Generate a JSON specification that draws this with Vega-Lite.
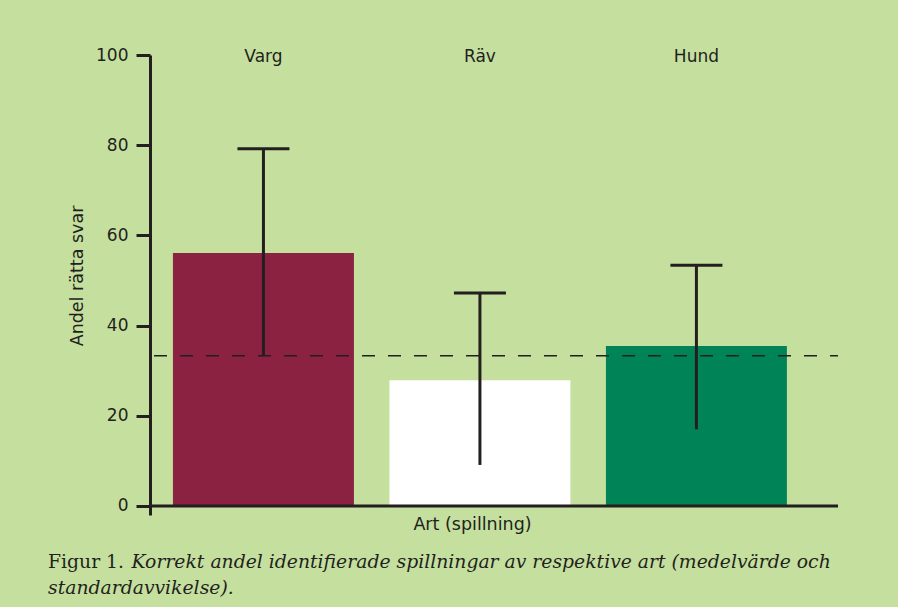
{
  "$schema": "https://vega.github.io/schema/vega-lite/v6.json",
  "width": 688,
  "height": 460,
  "autosize": {"type": "none"},
  "padding": {"left": 150, "top": 55, "right": 60, "bottom": 92},
  "background": "#C5DF9E",
  "config": {"view": {"stroke": null}, "font": "DejaVu Sans"},
  "data": {"values": [
    {"art": "Varg", "andel": 56.1, "lo": 33.3, "hi": 79.2},
    {"art": "Räv", "andel": 27.9, "lo": 9.1, "hi": 47.2},
    {"art": "Hund", "andel": 35.5, "lo": 17.0, "hi": 53.4}
  ]},
  "title": {
    "text": "Figur 1.",
    "subtitle": ["\u200b\u00a0\u00a0\u00a0\u00a0\u00a0\u00a0\u00a0\u00a0\u00a0\u00a0\u00a0\u00a0\u00a0\u00a0Korrekt andel identifierade spillningar av respektive art (medelvärde och", "standardavvikelse)."],
    "orient": "bottom",
    "anchor": "start",
    "frame": "group",
    "font": "DejaVu Serif",
    "fontSize": 18.8,
    "fontWeight": "normal",
    "color": "#231F20",
    "subtitleFont": "DejaVu Serif",
    "subtitleFontSize": 18.8,
    "subtitleFontStyle": "italic",
    "subtitleColor": "#231F20",
    "subtitleLineHeight": 26,
    "subtitlePadding": -18.8,
    "dx": -102,
    "dy": 16
  },
  "encoding": {
    "x": {
      "field": "art",
      "type": "nominal",
      "sort": null,
      "scale": {"paddingInner": 0.164, "paddingOuter": 0.171, "align": 0.31},
      "axis": {
        "domain": false,
        "ticks": false,
        "labels": false,
        "title": "Art (spillning)",
        "titleFont": "DejaVu Sans",
        "titleFontSize": 17.5,
        "titleFontWeight": "normal",
        "titleColor": "#231F20",
        "titleX": 322,
        "titleY": 14.5,
        "titleAlign": "center",
        "titleBaseline": "alphabetic"
      }
    }
  },
  "layer": [
    {
      "mark": {"type": "bar"},
      "encoding": {
        "y": {
          "field": "andel",
          "type": "quantitative",
          "scale": {"domain": [-2, 100], "nice": false, "zero": false},
          "axis": {
            "values": [0, 20, 40, 60, 80, 100],
            "grid": false,
            "tickSize": 14,
            "tickWidth": 3,
            "tickColor": "#231F20",
            "domainWidth": 3,
            "domainColor": "#231F20",
            "labelFont": "DejaVu Sans",
            "labelFontSize": 17,
            "labelColor": "#231F20",
            "labelPadding": 8,
            "title": "Andel rätta svar",
            "titleFont": "DejaVu Sans",
            "titleFontSize": 17.5,
            "titleFontWeight": "normal",
            "titleColor": "#231F20",
            "titleAngle": -90,
            "titleX": -68,
            "titleY": 220.5,
            "titleAlign": "center",
            "titleBaseline": "alphabetic"
          }
        },
        "y2": {"datum": 0},
        "color": {
          "field": "art",
          "type": "nominal",
          "scale": {"domain": ["Varg", "Räv", "Hund"], "range": ["#8B2241", "#FFFFFF", "#008457"]},
          "legend": null
        }
      }
    },
    {
      "data": {"values": [{"niva": 33.3}]},
      "mark": {"type": "rule", "strokeDash": [13, 13], "strokeDashOffset": 5, "strokeWidth": 1.5, "color": "#231F20"},
      "encoding": {"x": null, "y": {"field": "niva", "type": "quantitative"}}
    },
    {
      "mark": {"type": "rule", "strokeWidth": 3, "color": "#231F20"},
      "encoding": {
        "y": {"field": "lo", "type": "quantitative"},
        "y2": {"field": "hi"}
      }
    },
    {
      "mark": {"type": "tick", "size": 52, "thickness": 3, "color": "#231F20", "opacity": 1, "orient": "horizontal"},
      "encoding": {"y": {"field": "hi", "type": "quantitative"}}
    },
    {
      "data": {"values": [{"bas": 0}]},
      "mark": {"type": "rule", "strokeWidth": 3, "color": "#231F20"},
      "encoding": {"x": null, "y": {"field": "bas", "type": "quantitative"}}
    },
    {
      "mark": {"type": "text", "fontSize": 17, "color": "#231F20", "baseline": "middle", "dy": 2, "font": "DejaVu Sans"},
      "encoding": {"y": {"datum": 100}, "text": {"field": "art"}}
    }
  ]
}
